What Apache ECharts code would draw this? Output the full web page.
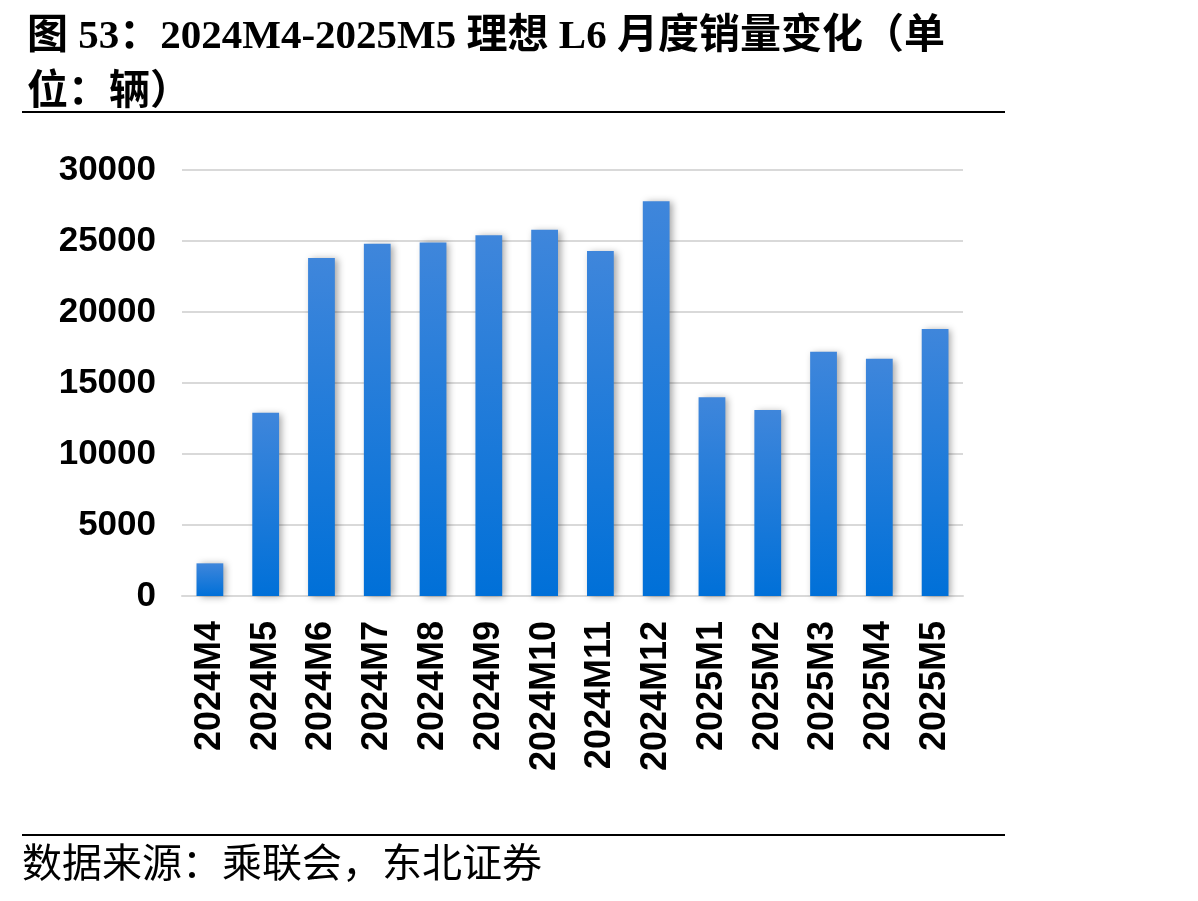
<!DOCTYPE html>
<html lang="zh-CN" style="height: 100%">
  <head>
    <meta charset="utf-8" />
  </head>
  <body style="height: 100%; margin: 0; overflow: hidden; background: #fff">
    <div id="container" style="width: 1198px; height: 901px"></div>
    <script type="text/javascript" src="https://cdn.jsdelivr.net/npm/echarts@6/dist/echarts.min.js"></script>
    <script type="text/javascript">
      // 理想 L6 月度销量（辆）
      const months = [
        '2024M4', '2024M5', '2024M6', '2024M7', '2024M8', '2024M9', '2024M10',
        '2024M11', '2024M12', '2025M1', '2025M2', '2025M3', '2025M4', '2025M5',
      ]
      const sales = [
        2300, 12900, 23800, 24800, 24900, 25400, 25800,
        24300, 27800, 14000, 13100, 17200, 16700, 18800,
      ]
      const yTicks = [0, 5000, 10000, 15000, 20000, 25000, 30000]

      const titleText = '图 53：2024M4-2025M5 理想 L6 月度销量变化（单\n位：辆）'
      const sourceText = '数据来源：乘联会，东北证券'

      const dom = document.getElementById('container')
      const myChart = echarts.init(dom, null, { renderer: 'canvas' })

      const option = {
        backgroundColor: '#fff',
        animation: false,
        title: {
          text: titleText,
          left: 22,
          top: 4,
          textStyle: {
            fontSize: 41,
            fontWeight: 'bold',
            fontFamily: "'Liberation Serif', 'Noto Sans CJK SC'",
            color: '#000',
            lineHeight: 56,
          },
        },
        grid: {
          left: 182,
          right: 235,
          top: 170,
          bottom: 305,
        },
        xAxis: {
          type: 'category',
          data: months,
          axisTick: { show: false },
          axisLine: { lineStyle: { color: '#d9d9d9', width: 2 } },
          axisLabel: {
            rotate: 90,
            interval: 0,
            margin: 25,
            fontSize: 36,
            fontWeight: 'bold',
            fontFamily: "'Liberation Sans', Arial",
            color: '#000',
          },
        },
        yAxis: {
          type: 'value',
          min: yTicks[0],
          max: yTicks[yTicks.length - 1],
          interval: 5000,
          axisLine: { show: false },
          axisTick: { show: false },
          splitLine: { lineStyle: { color: '#d9d9d9', width: 2 } },
          axisLabel: {
            margin: 26,
            fontSize: 35,
            fontWeight: 'bold',
            fontFamily: "'Liberation Sans', Arial",
            color: '#000',
            formatter: (v) => String(v),
          },
        },
        series: [
          {
            type: 'bar',
            data: sales,
            barWidth: '48%',
            itemStyle: {
              color: new echarts.graphic.LinearGradient(0, 0, 0, 1, [
                { offset: 0, color: '#3f86db' },
                { offset: 1, color: '#0070d8' },
              ]),
              shadowColor: 'rgba(0,0,0,0.35)',
              shadowBlur: 7,
              shadowOffsetX: 3,
              shadowOffsetY: 1,
            },
          },
        ],
        graphic: [
          {
            type: 'line',
            shape: { x1: 22, y1: 112, x2: 1005, y2: 112 },
            style: { stroke: '#000', lineWidth: 2 },
          },
          {
            type: 'line',
            shape: { x1: 22, y1: 835, x2: 1005, y2: 835 },
            style: { stroke: '#000', lineWidth: 2 },
          },
          {
            type: 'text',
            left: 22,
            top: 842,
            style: {
              text: sourceText,
              fontSize: 40,
              fontFamily: "'Noto Sans CJK SC'",
              fill: '#000',
            },
          },
        ],
      }

      myChart.setOption(option)
      window.addEventListener('resize', myChart.resize)
    </script>
  </body>
</html>
